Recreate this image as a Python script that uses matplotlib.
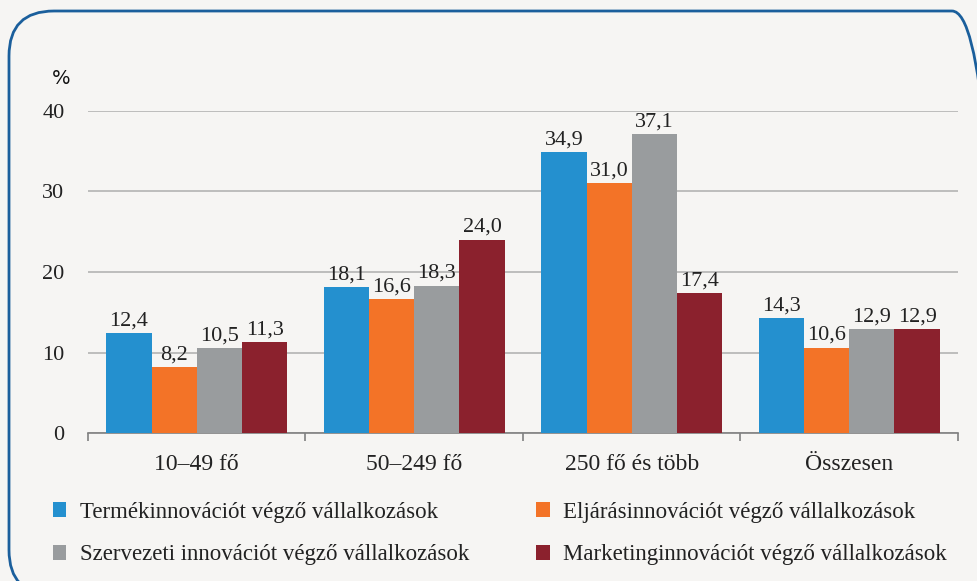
import matplotlib
matplotlib.use("Agg")
import matplotlib.pyplot as plt
from matplotlib.patches import FancyBboxPatch, Patch
from matplotlib.transforms import IdentityTransform
import numpy as np

categories = ["10–49 fő", "50–249 fő", "250 fő és több", "Összesen"]
series_names = [
    "Termékinnovációt végző vállalkozások",
    "Eljárásinnovációt végző vállalkozások",
    "Szervezeti innovációt végző vállalkozások",
    "Marketinginnovációt végző vállalkozások",
]
termek = [12.4, 18.1, 34.9, 14.3]
eljaras = [8.2, 16.6, 31.0, 10.6]
szervezeti = [10.5, 18.3, 37.1, 12.9]
marketing = [11.3, 24.0, 17.4, 12.9]
yticks = [0, 10, 20, 30, 40]

colors = ["#2490cf", "#f37327", "#999c9e", "#8b212d"]
bg = "#f6f5f3"
serif = ["Liberation Serif", "DejaVu Serif"]

fig = plt.figure(figsize=(9.78, 5.81), dpi=100, facecolor=bg)
ax = fig.add_axes([88/978, 1-433/581, 870/978, 322/581])
ax.set_facecolor(bg)

# rounded frame (pixel coordinates, extends past right and bottom edges)
frame = FancyBboxPatch((9, -14), 988, 581 - 11 + 14,
                       boxstyle="round,pad=0,rounding_size=45",
                       transform=IdentityTransform(), fill=False,
                       edgecolor="#1b5f9c", linewidth=2.0, clip_on=False)
fig.patches.append(frame)

data = [termek, eljaras, szervezeti, marketing]
x = np.arange(len(categories))
w = 0.208
offsets = (np.arange(4) - 1.5) * w
for i, (vals, c) in enumerate(zip(data, colors)):
    bars = ax.bar(x + offsets[i], vals, width=w, color=c, zorder=3)
    for b, v in zip(bars, vals):
        ax.annotate(f"{v:.1f}".replace(".", ","),
                    (b.get_x() + b.get_width()/2, v),
                    xytext=(0, 2), textcoords="offset points",
                    ha="center", va="bottom", fontsize=16,
                    family=serif, color="#222222", zorder=4)

ax.set_xlim(-0.5, 3.5)
ax.set_ylim(0, 40)
ax.set_yticks(yticks)
ax.set_yticklabels([str(t) for t in yticks], family=serif, fontsize=16, color="#222222")
ax.tick_params(axis="y", length=0, pad=17)
ax.yaxis.grid(True, color="#b3b3b3", linewidth=1.2, zorder=0)
ax.set_axisbelow(True)

ax.set_xticks(x)
ax.set_xticklabels(categories, family=serif, fontsize=17, color="#222222")
ax.tick_params(axis="x", length=0, pad=15)
ax.set_xticks(np.arange(-0.5, 4.0, 1.0), minor=True)
ax.tick_params(axis="x", which="minor", length=6, width=1.2, color="#808080")

for s in ["top", "right", "left"]:
    ax.spines[s].set_visible(False)
ax.spines["bottom"].set_color("#808080")
ax.spines["bottom"].set_linewidth(1.2)

fig.text(52/978, 1-79/581, "%", fontsize=14, family="DejaVu Sans",
         ha="left", va="center", color="#111111")

handles = [Patch(facecolor=c, edgecolor="none") for c in colors]
order = [0, 2, 1, 3]
leg = fig.legend([handles[i] for i in order], [series_names[i] for i in order],
                 ncol=2, loc="upper left", bbox_to_anchor=(32/978, 1-481/581),
                 frameon=False, prop={"family": serif, "size": 16.5},
                 handlelength=0.6, handleheight=0.6, handletextpad=0.6,
                 columnspacing=2.9, labelspacing=0.95)
for t in leg.get_texts():
    t.set_color("#222222")

fig.savefig("out.png", dpi=100, facecolor=bg)
